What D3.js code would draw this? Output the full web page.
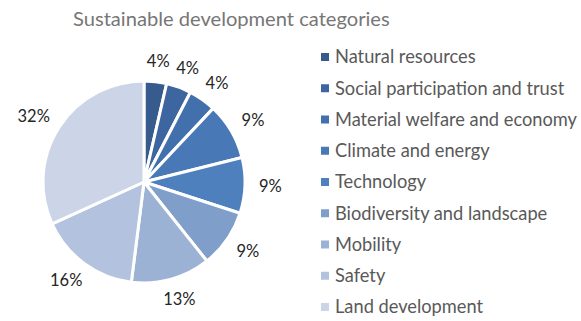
<!DOCTYPE html>
<html>
<head>
<meta charset="utf-8">
<script src="https://cdn.jsdelivr.net/npm/d3@7"></script>
<style>
  body { margin: 0; background: #fff; }
  svg { font-family: Lato, "Open Sans", sans-serif; }
</style>
</head>
<body>
<svg id="chart" width="581" height="321"></svg>
<script>
// data
const categories = [
  'Natural resources',
  'Social participation and trust',
  'Material welfare and economy',
  'Climate and energy',
  'Technology',
  'Biodiversity and landscape',
  'Mobility',
  'Safety',
  'Land development'
];
const shares = [3.6, 4.0, 4.4, 9.1, 8.9, 9.3, 12.7, 16.2, 31.8];
const colors = ['#375b8c', '#3d65a0', '#4270ad', '#4878b5', '#4f80be', '#7f9ec9', '#9cb2d5', '#b3c3df', '#cbd5e7'];
const title = 'Sustainable development categories';

const svg = d3.select('#chart');
const cx = 144, cy = 182, radius = 101;

// shrink/grow a text so it spans the wanted width
function fitWidth(sel, target) {
  const w = sel.node().getComputedTextLength();
  const fs = parseFloat(sel.attr('font-size'));
  sel.attr('font-size', (fs * target / w).toFixed(2));
}

const t = svg.append('text')
  .attr('x', 73)
  .attr('y', 26)
  .attr('font-size', 22)
  .attr('fill', '#767676')
  .text(title);
fitWidth(t, 317);

const data = categories.map((c, i) => ({ name: c, value: shares[i], color: colors[i] }));

const pie = d3.pie().value(d => d.value).sort(null);
const arc = d3.arc().innerRadius(0).outerRadius(radius);

const g = svg.append('g').attr('transform', 'translate(' + cx + ',' + cy + ')');
const arcs = pie(data);

g.selectAll('path')
  .data(arcs)
  .enter()
  .append('path')
  .attr('d', arc)
  .attr('fill', d => d.data.color)
  .attr('stroke', '#fff')
  .attr('stroke-width', 3)
  .attr('stroke-linejoin', 'round');

// labels sit just outside the rim, box pushed outward like excel does
const labelR = 115;
const labels = g.selectAll('.lbl')
  .data(arcs)
  .enter()
  .append('text')
  .attr('class', 'lbl')
  .attr('text-anchor', 'middle')
  .attr('dy', '0.35em')
  .attr('font-size', 16.5)
  .attr('fill', '#262626')
  .text(d => Math.round(d.value) + '%');

labels.attr('transform', function (d) {
  const a = (d.startAngle + d.endAngle) / 2;
  const sx = Math.sin(a), sy = -Math.cos(a);
  const hw = this.getComputedTextLength() / 2;
  const hh = 6.5;
  return 'translate(' + (sx * labelR + sx * hw) + ',' + (sy * labelR + sy * hh) + ')';
});

// legend
const legend = svg.append('g').attr('transform', 'translate(321,57)');
const rowH = 31.25;
const rows = legend.selectAll('g')
  .data(data)
  .enter()
  .append('g')
  .attr('transform', (d, i) => 'translate(0,' + i * rowH + ')');

rows.append('rect')
  .attr('x', 0)
  .attr('y', -4)
  .attr('width', 8)
  .attr('height', 8)
  .attr('fill', d => d.color);

const ltext = rows.append('text')
  .attr('x', 14)
  .attr('dy', '0.35em')
  .attr('font-size', 17)
  .attr('fill', '#595959')
  .text(d => d.name);

// size legend font from the longest entry
const longest = ltext.filter((d, i) => i === 2);
const before = longest.node().getComputedTextLength();
ltext.attr('font-size', (17 * 242 / before).toFixed(2));
</script>
</body>
</html>
